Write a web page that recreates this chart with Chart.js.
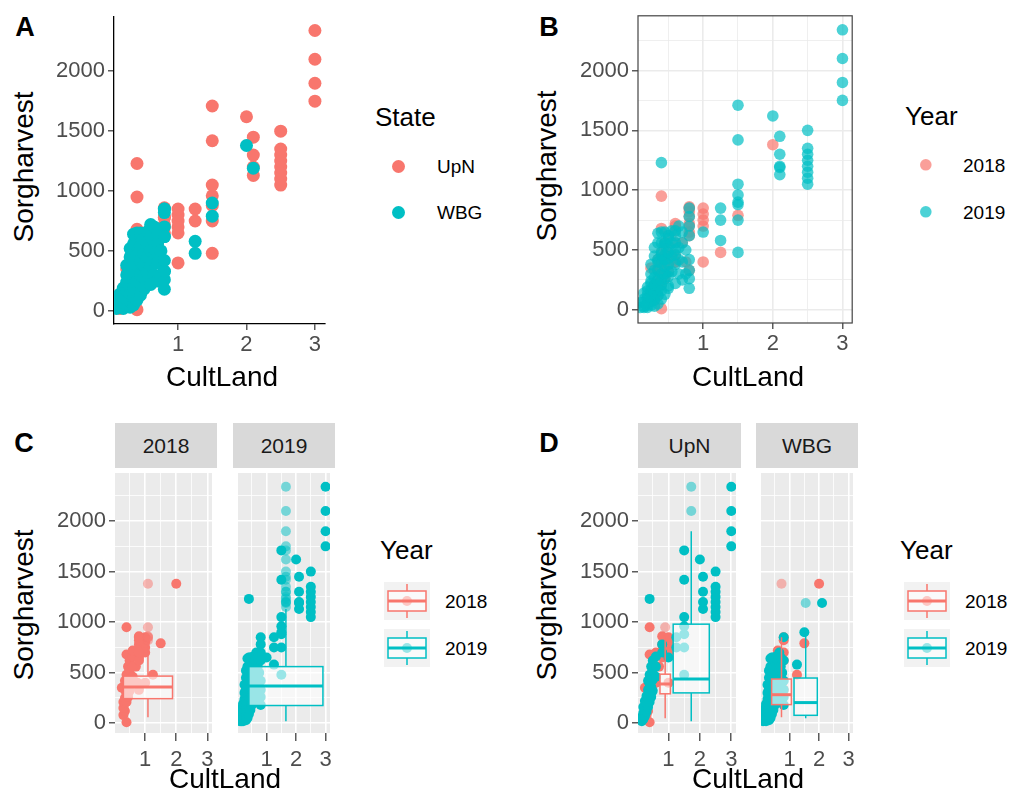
<!DOCTYPE html>
<html>
<head>
<meta charset="utf-8">
<script src="https://cdn.jsdelivr.net/npm/chart.js@4.4.1/dist/chart.umd.min.js"></script>
<style>
  body { margin: 0; background: #fff; font-family: 'Liberation Sans', Arial, sans-serif; }
  #fig { position: relative; width: 1018px; height: 805px; overflow: hidden; }
  #fig canvas, #fig .t, #fig .strip, #fig svg { position: absolute; }
  .t { white-space: nowrap; line-height: 1; transform: translate(-50%, -50%); color: #000; }
  .strip { background: #D9D9D9; color: #1A1A1A; font-size: 21px; display: flex; align-items: center; justify-content: center; }
</style>
</head>
<body>
<div id="fig"></div>
<script>
const RED = '#F8766D'
const CYAN = '#00BFC4'

// CultLand / Sorgharvest pairs, one list per state and year
const upn2018 = [
  [0.25, 350], [0.3, 80], [0.35, 120], [0.35, 340], [0.4, 10], [0.4, 250], [0.4, 680], [0.4, 950],
  [0.45, 300], [0.5, 380], [0.55, 450], [0.6, 400], [0.6, 700], [0.7, 560], [0.8, 650], [0.8, 720],
  [0.8, 780], [0.8, 860], [1, 400], [1, 700], [1, 750], [1, 800], [1, 850]
]
const upn2019 = [
  [0.15, 20], [0.15, 60], [0.2, 40], [0.2, 100], [0.2, 160], [0.25, 70], [0.25, 140], [0.25, 220],
  [0.3, 110], [0.3, 190], [0.3, 270], [0.35, 160], [0.35, 250], [0.35, 330], [0.35, 420],
  [0.4, 210], [0.4, 300], [0.4, 390], [0.4, 480], [0.4, 1230], [0.45, 260], [0.45, 360], [0.45, 460],
  [0.45, 560], [0.5, 320], [0.5, 430], [0.5, 530], [0.5, 620], [0.6, 460], [0.6, 560], [0.6, 660],
  [0.8, 700], [0.8, 780], [1, 650], [1.25, 750], [1.25, 850],
  [1.5, 480], [1.5, 750], [1.5, 880], [1.5, 960], [1.5, 1050], [1.5, 1420], [1.5, 1710],
  [2, 1620], [2.1, 1130], [2.1, 1200], [2.1, 1300], [2.1, 1450],
  [2.5, 1050], [2.5, 1100], [2.5, 1150], [2.5, 1200], [2.5, 1250], [2.5, 1300], [2.5, 1350], [2.5, 1500],
  [3, 1750], [3, 1900], [3, 2100], [3, 2340]
]
const wbg2018 = [
  [0.3, 150], [0.3, 210], [0.35, 200], [0.35, 250], [0.35, 330], [0.35, 420], [0.4, 210], [0.4, 300],
  [0.4, 390], [0.4, 480], [0.45, 260], [0.45, 360], [0.45, 460], [0.45, 560], [0.5, 320], [0.5, 430],
  [0.5, 530], [0.5, 620], [0.6, 400], [0.6, 460], [0.6, 560], [0.6, 660], [0.6, 720], [0.75, 400],
  [0.8, 330], [0.8, 620], [0.8, 700], [0.8, 820], [0.8, 850], [1.25, 480], [1.5, 790], [2, 1380]
]
const wbg2019 = [
  [0.1, 20], [0.1, 60], [0.15, 30], [0.15, 90], [0.15, 140], [0.2, 20], [0.2, 70], [0.2, 120],
  [0.2, 190], [0.25, 40], [0.25, 100], [0.25, 170], [0.25, 240], [0.25, 300], [0.25, 380],
  [0.3, 30], [0.3, 80], [0.3, 150], [0.3, 210], [0.3, 330], [0.3, 450], [0.3, 520],
  [0.35, 50], [0.35, 120], [0.35, 200], [0.35, 400], [0.35, 560], [0.35, 640],
  [0.4, 90], [0.4, 160], [0.4, 250], [0.4, 460], [0.4, 560], [0.4, 650],
  [0.45, 130], [0.45, 300], [0.45, 420], [0.45, 540], [0.45, 650],
  [0.5, 180], [0.5, 200], [0.5, 280], [0.5, 380], [0.5, 480], [0.5, 600],
  [0.55, 320], [0.55, 450], [0.55, 560], [0.55, 660], [0.6, 220], [0.6, 380], [0.6, 500], [0.6, 620],
  [0.65, 300], [0.65, 420], [0.65, 520], [0.65, 700], [0.7, 250], [0.7, 400], [0.7, 560], [0.7, 650],
  [0.75, 300], [0.75, 500], [0.8, 180], [0.8, 260], [0.8, 330], [0.8, 420], [0.8, 620], [0.8, 850],
  [1.25, 580], [1.5, 900], [2.1, 1190]
]

const states = ['UpN', 'WBG']
const years = ['2018', '2019']

// box summaries: xmin, xmax, lower whisker, q1, median, q3, upper whisker
const box2018 = [0.30, 1.88, 58, 243, 359, 466, 800]
const box2019 = [0.40, 2.91, 20, 175, 369, 560, 1130]
const boxUpn2018 = [0.73, 1.06, 50, 291, 388, 485, 870]
const boxUpn2019 = [1.15, 2.30, 20, 300, 437, 980, 1900]
const boxWbg2018 = [0.39, 1.06, 58, 184, 282, 437, 850]
const boxWbg2019 = [1.15, 1.94, 50, 78, 204, 447, 900]

const xMajor = [1, 2, 3]
const xMinor = [0.5, 1.5, 2.5]
const yMajor = [0, 500, 1000, 1500, 2000]
const yMinor = [250, 750, 1250, 1750, 2250]

const fig = document.getElementById('fig')

function addText(str, x, y, size, css) {
  const el = document.createElement('div')
  el.className = 't'
  el.textContent = str
  el.style.left = x + 'px'
  el.style.top = y + 'px'
  el.style.fontSize = size + 'px'
  Object.assign(el.style, css || {})
  fig.appendChild(el)
}

function addCanvas(left, top, w, h) {
  const c = document.createElement('canvas')
  c.width = w
  c.height = h
  c.style.left = left + 'px'
  c.style.top = top + 'px'
  c.style.width = w + 'px'
  c.style.height = h + 'px'
  fig.appendChild(c)
  return c
}

function addStrip(text, left, top, w, h) {
  const el = document.createElement('div')
  el.className = 'strip'
  el.textContent = text
  Object.assign(el.style, { left: left + 'px', top: top + 'px', width: w + 'px', height: h + 'px' })
  fig.appendChild(el)
}

const toPts = arr => arr.map(([x, y]) => ({ x, y }))
const alpha = (hex, a) => {
  const n = parseInt(hex.slice(1), 16)
  return `rgba(${n >> 16}, ${(n >> 8) & 255}, ${n & 255}, ${a})`
}

// grey panel background (theme_grey look)
const panelFill = color => ({
  id: 'panelFill',
  beforeDraw(chart) {
    const { ctx, chartArea: a } = chart
    ctx.save()
    ctx.fillStyle = color
    ctx.fillRect(a.left, a.top, a.width, a.height)
    ctx.restore()
  }
})

// frame round the panel (theme_bw look)
const panelFrame = color => ({
  id: 'panelFrame',
  afterDraw(chart) {
    const { ctx, chartArea: a } = chart
    ctx.save()
    ctx.strokeStyle = color
    ctx.lineWidth = 1.2
    ctx.strokeRect(a.left, a.top, a.width, a.height)
    ctx.restore()
  }
})

// boxplots drawn over the points, outliers taken from the group's points
const boxLayer = items => ({
  id: 'boxLayer',
  afterDatasetsDraw(chart) {
    const { ctx, chartArea: a, scales: { x, y } } = chart
    ctx.save()
    ctx.beginPath()
    ctx.rect(a.left, a.top, a.width, a.height)
    ctx.clip()
    items.forEach(({ stats, color, points }) => {
      const [x0, x1, lo, q1, med, q3, hi] = stats
      const xc = x.getPixelForValue((x0 + x1) / 2)
      const left = x.getPixelForValue(x0)
      const right = x.getPixelForValue(x1)
      ctx.fillStyle = alpha(color, 0.5)
      points.filter(p => p[1] > hi).forEach(p => {
        ctx.beginPath()
        ctx.arc(xc, y.getPixelForValue(p[1]), 5, 0, Math.PI * 2)
        ctx.fill()
      })
      ctx.strokeStyle = color
      ctx.lineWidth = 1.5
      ctx.beginPath()
      ctx.moveTo(xc, y.getPixelForValue(q3))
      ctx.lineTo(xc, y.getPixelForValue(hi))
      ctx.moveTo(xc, y.getPixelForValue(q1))
      ctx.lineTo(xc, y.getPixelForValue(lo))
      ctx.stroke()
      const top = y.getPixelForValue(q3)
      const bottom = y.getPixelForValue(q1)
      ctx.fillStyle = 'rgba(255, 255, 255, 0.6)'
      ctx.fillRect(left, top, right - left, bottom - top)
      ctx.strokeRect(left, top, right - left, bottom - top)
      ctx.lineWidth = 3
      ctx.beginPath()
      ctx.moveTo(left, y.getPixelForValue(med))
      ctx.lineTo(right, y.getPixelForValue(med))
      ctx.stroke()
    })
    ctx.restore()
  }
})

function makeAxis({ horiz, range, ticks, majors, extent, gridColor, axisLine, tickLength, padding, labels }) {
  const isMajor = c => c.tick && majors.includes(c.tick.value)
  return {
    type: 'linear',
    min: range[0],
    max: range[1],
    afterBuildTicks: s => { s.ticks = ticks.map(v => ({ value: v })) },
    afterFit: s => {
      if (horiz) s.height = extent
      else s.width = extent
      s.paddingLeft = 0
      s.paddingRight = 0
      s.paddingTop = 0
      s.paddingBottom = 0
    },
    ticks: {
      display: labels,
      autoSkip: false,
      maxRotation: 0,
      minRotation: 0,
      padding,
      color: '#4D4D4D',
      font: { family: 'Liberation Sans', size: 22 },
      callback: v => (majors.includes(v) ? String(v) : '')
    },
    grid: {
      drawOnChartArea: !!gridColor,
      drawTicks: labels,
      color: gridColor || 'transparent',
      lineWidth: c => (isMajor(c) ? 1.6 : 0.8),
      tickLength,
      tickWidth: 1.2,
      tickColor: c => (isMajor(c) ? '#333333' : 'transparent')
    },
    border: { display: !!axisLine, color: axisLine || 'transparent', width: 1.3 }
  }
}

function panel({ canvas, theme, xRange, yRange, xTicks, yTicks, showY, xTickLen, xPad, datasets, boxes, radius }) {
  const gridColor = theme === 'grey' ? '#FFFFFF' : theme === 'bw' ? '#EBEBEB' : null
  const axisLine = theme === 'classic' ? '#000000' : null
  const plugins = []
  if (theme === 'grey') plugins.push(panelFill('#EBEBEB'))
  if (theme === 'bw') plugins.push(panelFrame('#444444'))
  if (boxes) plugins.push(boxLayer(boxes))
  return new Chart(canvas, {
    type: 'scatter',
    data: { datasets },
    options: {
      responsive: false,
      animation: false,
      events: [],
      layout: { padding: 0 },
      plugins: { legend: { display: false }, tooltip: { enabled: false } },
      elements: { point: { radius, hoverRadius: radius, borderWidth: 0 } },
      scales: {
        x: makeAxis({
          horiz: true, range: xRange, ticks: xTicks, majors: xMajor, extent: 40,
          gridColor, axisLine, tickLength: xTickLen, padding: xPad, labels: true
        }),
        y: makeAxis({
          horiz: false, range: yRange, ticks: yTicks, majors: yMajor, extent: showY ? 74 : 0,
          gridColor, axisLine, tickLength: 6, padding: 3, labels: showY
        })
      }
    },
    plugins
  })
}

// lower order is drawn on top
const dots = (pts, color, order) => ({
  data: toPts(pts),
  backgroundColor: color,
  order
})

const allTicksX = [...xMinor, ...xMajor].sort((a, b) => a - b)
const allTicksY = [...yMajor, ...yMinor].sort((a, b) => a - b)

// A: coloured by state
panel({
  canvas: addCanvas(40, 10, 291, 354),
  theme: 'classic',
  xRange: [0.064, 3.14], yRange: [-110, 2457],
  xTicks: xMajor, yTicks: yMajor, showY: true, xTickLen: 6, xPad: 2,
  radius: 6.5,
  datasets: [
    dots([...wbg2018, ...wbg2019], CYAN, 0),
    dots([...upn2018, ...upn2019], RED, 1)
  ]
})

// B: coloured by year
panel({
  canvas: addCanvas(564, 10, 294, 353),
  theme: 'bw',
  xRange: [0.064, 3.14], yRange: [-110, 2457],
  xTicks: allTicksX, yTicks: allTicksY, showY: true, xTickLen: 6, xPad: 2,
  radius: 5.8,
  datasets: [
    dots([...upn2019, ...wbg2019], alpha(CYAN, 0.7), 0),
    dots([...upn2018, ...wbg2018], alpha(RED, 0.7), 1)
  ]
})

const facetX = [0.03, 3.15]
const facetY = [-97, 2476]

// C: one facet per year
panel({
  canvas: addCanvas(41, 468, 176, 305),
  theme: 'grey', xRange: facetX, yRange: facetY,
  xTicks: allTicksX, yTicks: allTicksY, showY: true, xTickLen: 8, xPad: 6, radius: 5,
  datasets: [dots([...upn2018, ...wbg2018], RED, 0)],
  boxes: [{ stats: box2018, color: RED, points: [...upn2018, ...wbg2018] }]
})
panel({
  canvas: addCanvas(233, 468, 102, 305),
  theme: 'grey', xRange: facetX, yRange: facetY,
  xTicks: allTicksX, yTicks: allTicksY, showY: false, xTickLen: 8, xPad: 6, radius: 5,
  datasets: [dots([...upn2019, ...wbg2019], CYAN, 0)],
  boxes: [{ stats: box2019, color: CYAN, points: [...upn2019, ...wbg2019] }]
})

// D: one facet per state, coloured by year
panel({
  canvas: addCanvas(564, 468, 177, 305),
  theme: 'grey', xRange: facetX, yRange: facetY,
  xTicks: allTicksX, yTicks: allTicksY, showY: true, xTickLen: 8, xPad: 6, radius: 5,
  datasets: [dots(upn2019, CYAN, 0), dots(upn2018, RED, 1)],
  boxes: [
    { stats: boxUpn2018, color: RED, points: upn2018 },
    { stats: boxUpn2019, color: CYAN, points: upn2019 }
  ]
})
panel({
  canvas: addCanvas(756, 468, 102, 305),
  theme: 'grey', xRange: facetX, yRange: facetY,
  xTicks: allTicksX, yTicks: allTicksY, showY: false, xTickLen: 8, xPad: 6, radius: 5,
  datasets: [dots(wbg2019, CYAN, 0), dots(wbg2018, RED, 1)],
  boxes: [
    { stats: boxWbg2018, color: RED, points: wbg2018 },
    { stats: boxWbg2019, color: CYAN, points: wbg2019 }
  ]
})

// facet strips
addStrip(years[0], 115, 423, 102, 45)
addStrip(years[1], 233, 423, 102, 45)
addStrip(states[0], 638, 423, 103, 45)
addStrip(states[1], 756, 423, 102, 45)

// panel tags
const bold = { fontWeight: 'bold' }
addText('A', 25, 27, 27, bold)
addText('B', 549, 27, 27, bold)
addText('C', 24, 443, 27, bold)
addText('D', 549, 443, 27, bold)

// axis titles
const yTitle = { transform: 'translate(-50%, -50%) rotate(-90deg)' }
addText('Sorgharvest', 24, 167, 28, yTitle)
addText('Sorgharvest', 547, 166, 28, yTitle)
addText('Sorgharvest', 24, 605, 28, yTitle)
addText('Sorgharvest', 547, 605, 28, yTitle)
addText('CultLand', 222, 377, 28)
addText('CultLand', 748, 377, 28)
addText('CultLand', 225, 779, 28)
addText('CultLand', 748, 779, 28)

// legends
const leftAligned = { transform: 'translate(0, -50%)' }
function dotKey(x, y, r, color) {
  const s = document.createElementNS('http://www.w3.org/2000/svg', 'svg')
  s.setAttribute('width', 2 * r + 2)
  s.setAttribute('height', 2 * r + 2)
  s.style.left = (x - r - 1) + 'px'
  s.style.top = (y - r - 1) + 'px'
  s.innerHTML = `<circle cx="${r + 1}" cy="${r + 1}" r="${r}" fill="${color}"/>`
  fig.appendChild(s)
}
function boxKey(x, y, color) {
  const s = document.createElementNS('http://www.w3.org/2000/svg', 'svg')
  s.setAttribute('width', 46)
  s.setAttribute('height', 38)
  s.style.left = x + 'px'
  s.style.top = y + 'px'
  s.innerHTML =
    `<rect x="0" y="0" width="46" height="38" fill="#F2F2F2"/>` +
    `<circle cx="23" cy="19" r="5" fill="${color}"/>` +
    `<line x1="23" y1="2" x2="23" y2="9" stroke="${color}" stroke-width="1.5"/>` +
    `<line x1="23" y1="29" x2="23" y2="36" stroke="${color}" stroke-width="1.5"/>` +
    `<rect x="4" y="9" width="38" height="20" fill="rgba(255,255,255,0.6)" stroke="${color}" stroke-width="1.5"/>` +
    `<line x1="4" y1="19" x2="42" y2="19" stroke="${color}" stroke-width="3"/>`
  fig.appendChild(s)
}

addText('State', 375, 117, 26, leftAligned)
dotKey(398, 166, 6.5, RED)
dotKey(398, 212, 6.5, CYAN)
addText(states[0], 437, 166, 19, leftAligned)
addText(states[1], 437, 212, 19, leftAligned)

addText('Year', 905, 116, 26, leftAligned)
dotKey(926, 165, 5.8, alpha(RED, 0.7))
dotKey(926, 212, 5.8, alpha(CYAN, 0.7))
addText(years[0], 963, 165, 19, leftAligned)
addText(years[1], 963, 212, 19, leftAligned)

addText('Year', 380, 550, 26, leftAligned)
boxKey(384, 582, RED)
boxKey(384, 629, CYAN)
addText(years[0], 445, 601, 19, leftAligned)
addText(years[1], 445, 648, 19, leftAligned)

addText('Year', 900, 550, 26, leftAligned)
boxKey(904, 582, RED)
boxKey(904, 629, CYAN)
addText(years[0], 965, 601, 19, leftAligned)
addText(years[1], 965, 648, 19, leftAligned)
</script>
</body>
</html>
